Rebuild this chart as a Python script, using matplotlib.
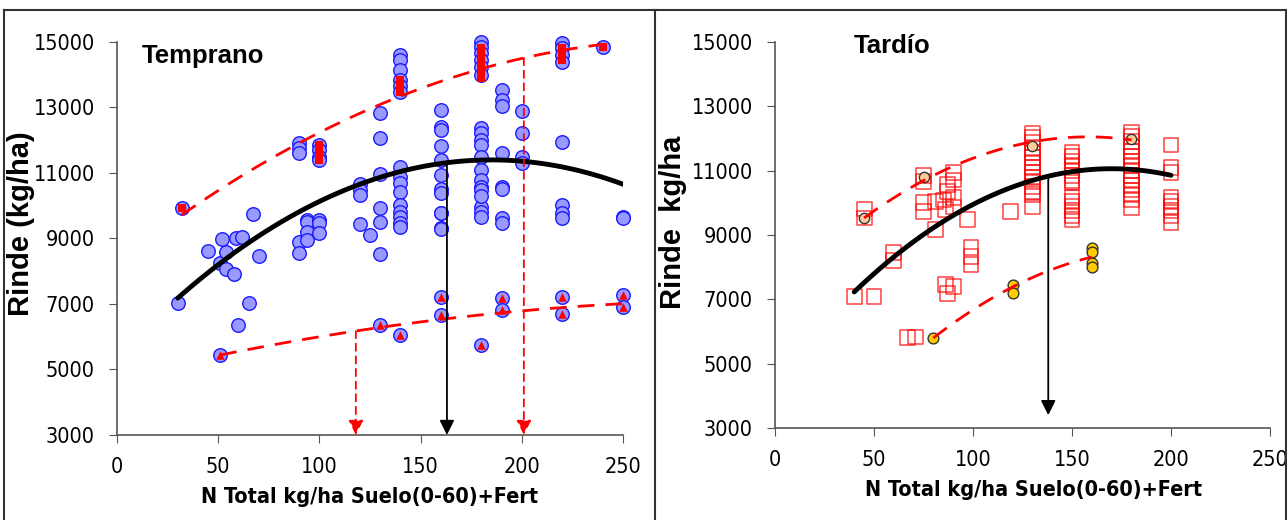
import matplotlib

matplotlib.use("Agg")
import matplotlib.pyplot as plt
from matplotlib import font_manager
from matplotlib.lines import Line2D
import numpy as np

# --- Temprano (left) ---
early_x = [30, 32, 45, 51, 51, 52, 54, 54, 58, 59, 60, 62, 65, 67, 70,
           90, 90, 90, 90, 90, 94, 94, 94, 94, 100, 100, 100, 100, 100, 100, 100,
           120, 120, 120, 120, 125, 130, 130, 130, 130, 130, 130, 130,
           140, 140, 140, 140, 140, 140, 140, 140, 140, 140, 140, 140, 140, 140, 140, 140,
           160, 160, 160, 160, 160, 160, 160, 160, 160, 160, 160, 160, 160, 160,
           180, 180, 180, 180, 180, 180, 180, 180, 180, 180, 180, 180, 180, 180, 180, 180, 180, 180, 180, 180,
           190, 190, 190, 190, 190, 190, 190, 190, 190, 190,
           200, 200, 200, 200,
           220, 220, 220, 220, 220, 220, 220, 220, 220, 220,
           240, 250, 250, 250, 250]
early_y = [7030, 9930, 8620, 5440, 8250, 8990, 8590, 8070, 7920, 9020, 6360, 9050, 7030, 9750, 8470,
           11910, 11760, 11610, 8890, 8560, 9560, 9500, 9200, 8950, 11850, 11700, 11500, 11400, 9560, 9470, 9170,
           10650, 10480, 10330, 9440, 9110, 12830, 12070, 10970, 9930, 9500, 8530, 6360,
           14600, 14450, 14140, 13840, 13650, 13470, 11180, 10880, 10690, 10420, 10020, 9810, 9660, 9470, 9350, 6050,
           12920, 12400, 12310, 11820, 11400, 10940, 10510, 10390, 9780, 9320, 9290, 7210, 6660, 9780,
           15000, 14850, 14660, 14450, 14240, 13990, 12370, 12220, 12010, 11850, 11490, 11090, 10780, 10570, 10480, 9960, 9810, 9660, 5750, 10300,
           13530, 13230, 13040, 11610, 10570, 10510, 9630, 9470, 7180, 6820,
           12890, 12220, 11490, 11300,
           14970, 14820, 14600, 14390, 11950, 10020, 9780, 9630, 7210, 6690,
           14850, 9660, 9630, 7270, 6910]
early_max_x = [32, 100, 100, 100, 100, 140, 140, 140, 180, 180, 180, 180, 180, 180, 220, 220, 220, 240]
early_max_y = [9930, 11850, 11700, 11500, 11400, 13840, 13650, 13470, 14820, 14660, 14450, 14240, 14050, 13900, 14820, 14600, 14450, 14850]
early_min_x = [51, 130, 140, 160, 160, 180, 190, 190, 220, 220, 250, 250]
early_min_y = [5440, 6360, 6050, 7210, 6660, 5750, 7180, 6820, 7210, 6690, 7270, 6910]

# trend lines (quadratic coefficients c2, c1, c0) and x ranges
early_trend = [-0.1757, 65.0, 5387]
early_trend_x = [30, 250]
early_top = [-0.0852, 48.2, 8265]
early_top_x = [32, 240]
early_low = [-0.0233, 14.9, 4741]
early_low_x = [51, 250]
early_opt_n = 163
early_low_n = 118
early_top_n = 201

# --- Tardio (right) ---
late_x = [40, 50, 45, 45, 60, 60, 67, 71, 75, 75, 75, 75, 81, 81, 85, 86, 87, 87,
          90, 90, 90, 90, 97, 99, 99, 99, 86, 90, 87, 119,
          130, 130, 130, 130, 130, 130, 130, 130, 130, 130, 130, 130, 130, 130, 130,
          150, 150, 150, 150, 150, 150, 150, 150, 150, 150, 150, 150, 150, 150,
          180, 180, 180, 180, 180, 180, 180, 180, 180, 180, 180, 180, 180, 180, 180, 180,
          200, 200, 200, 200, 200, 200, 200, 200, 200]
late_y = [7100, 7100, 9810, 9530, 8470, 8220, 5800, 5830, 10850, 10650, 10000, 9720, 10030, 9160, 10090, 9780, 10560, 10340,
          10930, 10710, 10180, 9870, 9470, 8600, 8320, 8070, 7450, 7390, 7170, 9720,
          12170, 12020, 11870, 11700, 11550, 11400, 11250, 11100, 10950, 10800, 10650, 10500, 10350, 10250, 9870,
          11580, 11450, 11300, 11150, 11000, 10850, 10700, 10620, 10180, 10050, 9900, 9750, 9600, 9470,
          12200, 12050, 11900, 11750, 11600, 11450, 11300, 11150, 11000, 10850, 10700, 10550, 10400, 10250, 10100, 9840,
          11800, 11090, 10950, 10180, 10050, 9900, 9750, 9600, 9400]
late_max_x = [45, 75, 130, 180]
late_max_y = [9530, 10810, 11770, 12000]
late_min_x = [80, 120, 120, 160, 160, 160, 160]
late_min_y = [5800, 7450, 7200, 8600, 8470, 8130, 8010]

late_trend = [-0.2266, 77.05, 4511]
late_trend_x = [40, 200]
late_top = [-0.1973, 62.35, 7125]
late_top_x = [45, 180]
late_low = [-0.204, 80.4, 674]
late_low_x = [80, 160]
late_opt_n = 138
late_arrow_end = 3400

x_ticks = [0, 50, 100, 150, 200, 250]
y_ticks = [3000, 5000, 7000, 9000, 11000, 13000, 15000]


def find_narrow(bold):
    # look for a condensed / narrow face among the installed fonts
    best = None
    for f in font_manager.fontManager.ttflist:
        cond = ("Narrow" in f.name or "Condensed" in f.name
                or f.stretch in ("condensed", "semi-condensed", "extra-condensed"))
        if not cond or f.style != "normal":
            continue
        w = f.weight if isinstance(f.weight, int) else font_manager.weight_dict.get(f.weight, 400)
        if (w >= 600) != bold:
            continue
        rank = 0 if "Liberation" in f.name else (1 if "Arial" in f.name else 2)
        if best is None or rank < best[0]:
            best = (rank, f.fname)
    return best[1] if best else None


reg_file = find_narrow(False)
bold_file = find_narrow(True)
plt.rcParams["font.family"] = ["Liberation Sans", "DejaVu Sans"]
if reg_file:
    tick_fp = font_manager.FontProperties(fname=reg_file, size=15.5)
else:
    tick_fp = font_manager.FontProperties(family="Liberation Sans", size=14.5)
if bold_file:
    xlab_fp = font_manager.FontProperties(fname=bold_file, size=15.5)
else:
    xlab_fp = font_manager.FontProperties(family="Liberation Sans", weight="bold", size=15)


def curve(coef, xr):
    xs = np.linspace(xr[0], xr[1], 100)
    return xs, np.polyval(coef, xs)


def style_axes(ax):
    ax.set_xlim(0, 250)
    ax.set_ylim(3000, 15000)
    ax.set_xticks(x_ticks)
    ax.set_yticks(y_ticks)
    for s in ["top", "right"]:
        ax.spines[s].set_visible(False)
    for s in ["left", "bottom"]:
        ax.spines[s].set_color("#555555")
        ax.spines[s].set_linewidth(1.2)
    ax.tick_params(axis="both", direction="out", length=6, color="#555555")
    ax.tick_params(axis="x", pad=10)
    ax.tick_params(axis="y", pad=10)
    for lab in ax.get_xticklabels() + ax.get_yticklabels():
        lab.set_fontproperties(tick_fp)
    ax.set_xlabel("N Total kg/ha Suelo(0-60)+Fert", fontproperties=xlab_fp)


fig = plt.figure(figsize=(12.87, 5.2), dpi=100)

# left panel
ax1 = fig.add_axes([0.0909, 0.1635, 0.3932, 0.7558])
style_axes(ax1)
ax1.scatter(early_x, early_y, s=95, facecolor="#9999FF", edgecolor="#1a1aff", linewidth=1.0, zorder=3, clip_on=False)
ax1.scatter(early_max_x, early_max_y, s=40, marker="s", color="red", linewidth=0, zorder=4, clip_on=False)
ax1.scatter(early_min_x, early_min_y, s=38, marker="^", color="red", linewidth=0, zorder=4, clip_on=False)
xs, ys = curve(early_trend, early_trend_x)
ax1.plot(xs, ys, color="black", lw=3.5, zorder=5, solid_capstyle="round")
xs, ys = curve(early_top, early_top_x)
ax1.plot(xs, ys, color="red", lw=2, dashes=(6, 4), zorder=5)
xs, ys = curve(early_low, early_low_x)
ax1.plot(xs, ys, color="red", lw=2, dashes=(6, 4), zorder=5)
ax1.annotate("", xy=(early_opt_n, 3000), xytext=(early_opt_n, np.polyval(early_trend, early_opt_n)),
             arrowprops=dict(arrowstyle="-|>", color="black", lw=1.3, mutation_scale=22, shrinkA=0, shrinkB=0), zorder=6)
for n, coef in [(early_low_n, early_low), (early_top_n, early_top)]:
    ax1.annotate("", xy=(n, 3000), xytext=(n, np.polyval(coef, n)),
                 arrowprops=dict(arrowstyle="-|>", color="red", lw=1.3, ls=(0, (4, 3)),
                                 mutation_scale=22, shrinkA=0, shrinkB=0), zorder=6)
ax1.text(12, 14950, "Temprano", fontsize=18.5, fontweight="bold", va="top")
ax1.set_ylabel("Rinde (kg/ha)", fontsize=21, fontweight="bold")
ax1.yaxis.set_label_coords(-0.162, 0.539)
ax1.xaxis.set_label_coords(0.5, -0.158)
ax1.xaxis.label.set_va("center")

# right panel
ax2 = fig.add_axes([0.6022, 0.1769, 0.3846, 0.7423])
style_axes(ax2)
ax2.scatter(late_x, late_y, s=115, marker="s", facecolor="none", edgecolor=(1, 0, 0, 0.75), linewidth=1.1, zorder=3)
ax2.scatter(late_max_x, late_max_y, s=55, facecolor="#FFCC99", edgecolor="#333333", linewidth=1.0, zorder=4)
ax2.scatter(late_min_x, late_min_y, s=60, facecolor="#FFCC00", edgecolor="#333333", linewidth=1.0, zorder=4)
xs, ys = curve(late_trend, late_trend_x)
ax2.plot(xs, ys, color="black", lw=3.5, zorder=5, solid_capstyle="round")
xs, ys = curve(late_top, late_top_x)
ax2.plot(xs, ys, color="red", lw=2, dashes=(6, 4), zorder=5)
xs, ys = curve(late_low, late_low_x)
ax2.plot(xs, ys, color="red", lw=2, dashes=(6, 4), zorder=5)
ax2.annotate("", xy=(late_opt_n, late_arrow_end), xytext=(late_opt_n, np.polyval(late_trend, late_opt_n)),
             arrowprops=dict(arrowstyle="-|>", color="black", lw=1.3, mutation_scale=22, shrinkA=0, shrinkB=0), zorder=6)
ax2.text(40, 15250, "Tardío", fontsize=18.5, fontweight="bold", va="top")
ax2.set_ylabel("Rinde  kg/ha", fontsize=21, fontweight="bold")
ax2.yaxis.set_label_coords(-0.178, 0.534)
ax2.xaxis.set_label_coords(0.522, -0.161)
ax2.xaxis.label.set_va("center")

# frame lines around the panels
fig.add_artist(Line2D([4 / 1287, 1], [1 - 10 / 520, 1 - 10 / 520], color="#333333", lw=1.5))
fig.add_artist(Line2D([4 / 1287, 4 / 1287], [0, 1 - 10 / 520], color="#333333", lw=1.5))
fig.add_artist(Line2D([655 / 1287, 655 / 1287], [0, 1 - 10 / 520], color="#333333", lw=1.5))
fig.add_artist(Line2D([1286 / 1287, 1286 / 1287], [0, 1 - 10 / 520], color="#333333", lw=1.5))

fig.savefig("out.png", dpi=100)
